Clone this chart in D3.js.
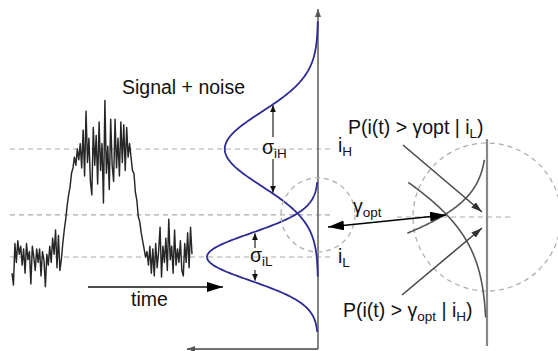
<!DOCTYPE html>
<html>
<head>
<meta charset="utf-8">
<script src="https://cdn.jsdelivr.net/npm/d3@7"></script>
<style>
  body { margin: 0; background: #fff; }
  svg { display: block; font-family: "Liberation Sans", Arial, sans-serif; }
</style>
</head>
<body>
<div id="chart"></div>
<script>
// received photocurrent (a.u.): low, rise, high, fall, low
const signal = [
  17.0, 14.8, 22.5, 19.0, 23.0, 20.5, 22.0, 18.5, 21.5, 17.0, 22.5, 19.5, 21.0, 15.0, 22.0, 20.0, 17.5,
  21.5, 19.0, 21.5, 16.5, 21.0, 19.5, 14.5, 20.5, 18.5, 22.0, 19.0, 23.5, 20.5, 25.0, 18.0, 24.0, 17.5,
  19.5, 22.5, 25.0, 27.0, 29.5, 31.5, 33.0, 35.5, 36.5, 38.5, 37.0, 40.0,
  38.0, 41.0, 36.5, 43.5, 35.0, 47.0, 37.5, 42.0, 34.0, 31.5, 44.0, 37.0, 42.5, 33.5, 45.0, 36.0, 41.0,
  30.0, 49.0, 35.5, 40.5, 32.5, 45.5, 37.0, 34.0, 45.5, 36.5, 42.0, 35.0, 45.0, 37.5, 44.5, 36.0, 44.0,
  38.5, 41.0,
  38.5, 36.0, 35.5, 32.0, 30.5, 27.5, 26.5, 24.5, 23.0, 21.5, 20.0, 21.0,
  18.5, 22.0, 17.0, 21.5, 16.5, 22.5, 18.0, 21.0, 25.5, 16.3, 22.0, 19.0, 23.5, 17.5, 27.0, 19.5,
  22.0, 17.0, 25.0, 18.5, 21.5, 19.0, 23.0, 17.5, 16.5, 22.5, 19.0, 24.5, 18.0, 25.5, 20.5
];

// the two current levels and their noise
const levelNames = ["L", "H"];
const levelMeans = [20, 40];
const levelSigmas = [4.4, 6.85];
const levelPeaks = [1.0, 0.84];
const levelSpans = [3.15, 3.45];     // bell drawn over +/- this many sigmas
const sigmaMarks = [1.0, 1.18];      // sigma arrows reach +/- this many sigmas
const gammaOpt = 27.8;

// part of each tail shown magnified in the inset (current range)
const insetRanges = [[26.3, 33.1], [18.5, 31.0]];

const width = 558, height = 351;

const svg = d3.select("#chart").append("svg")
    .attr("width", width)
    .attr("height", height);

// scales
const x_time = d3.scaleLinear().domain([0, signal.length - 1]).range([12, 192]);
const y_cur = d3.scaleLinear().domain([20, 40]).range([257, 149]);
const x_dens = d3.scaleLinear().domain([0, 1]).range([318, 207]);

// arrow heads
const defs = svg.append("defs");
function marker(id, len, wid, color) {
    defs.append("marker")
        .attr("id", id)
        .attr("markerUnits", "userSpaceOnUse")
        .attr("viewBox", `0 0 ${len} ${wid}`)
        .attr("refX", len).attr("refY", wid / 2)
        .attr("markerWidth", len).attr("markerHeight", wid)
        .attr("orient", "auto-start-reverse")
        .append("path")
        .attr("d", `M0,0L${len},${wid / 2}L0,${wid}Z`)
        .attr("fill", color);
}
marker("big", 16, 10, "#000");
marker("mid", 11, 7, "#333");
marker("small", 7, 6, "#111");
marker("axis", 8, 6, "#555");

const grey_dash = "#aaa";

// dashed reference levels
[levelMeans[1], gammaOpt, levelMeans[0]].forEach(v => {
    svg.append("line")
        .attr("x1", 10).attr("x2", 334)
        .attr("y1", y_cur(v)).attr("y2", y_cur(v))
        .attr("stroke", grey_dash).attr("stroke-width", 1.2)
        .attr("stroke-dasharray", "5,4");
});

// noisy signal trace
svg.append("path")
    .datum(signal)
    .attr("fill", "none")
    .attr("stroke", "#262626")
    .attr("stroke-width", 1.45)
    .attr("stroke-linejoin", "round")
    .attr("d", d3.line().x((d, i) => x_time(i)).y(d => y_cur(d)));

// density axes
const x0 = x_dens(0);
svg.append("line")
    .attr("x1", x0).attr("x2", x0).attr("y1", 349).attr("y2", 9)
    .attr("stroke", "#666").attr("stroke-width", 1.6)
    .attr("marker-end", "url(#axis)");
svg.append("line")
    .attr("x1", x0).attr("x2", 187).attr("y1", 349).attr("y2", 349)
    .attr("stroke", "#444").attr("stroke-width", 1.4)
    .attr("marker-end", "url(#axis)");

// gaussian bells
function gauss(v, k) {
    return levelPeaks[k] * Math.exp(-((v - levelMeans[k]) ** 2) / (2 * levelSigmas[k] ** 2));
}
function bellPoints(k, lo, hi) {
    const n = 160;
    return d3.range(n + 1).map(j => {
        const v = lo + (hi - lo) * j / n;
        return [x_dens(gauss(v, k)), y_cur(v)];
    });
}
const line = d3.line();
levelMeans.forEach((m, k) => {
    const s = levelSigmas[k] * levelSpans[k];
    svg.append("path")
        .attr("d", line(bellPoints(k, m - s, m + s)))
        .attr("fill", "none")
        .attr("stroke", "#2c2c94")
        .attr("stroke-width", 1.8);
});

// sigma arrows
const sigmaX = [255, 273];
const sigmaGap = [[248, 270], [137, 159]];
levelMeans.forEach((m, k) => {
    const top = y_cur(m + sigmaMarks[k] * levelSigmas[k]);
    const bot = y_cur(m - sigmaMarks[k] * levelSigmas[k]);
    [[sigmaGap[k][0], top], [sigmaGap[k][1], bot]].forEach(([a, b]) => {
        svg.append("line")
            .attr("x1", sigmaX[k]).attr("x2", sigmaX[k])
            .attr("y1", a).attr("y2", b)
            .attr("stroke", "#222").attr("stroke-width", 1.2)
            .attr("marker-end", "url(#small)");
    });
});

// magnifier circles and inset
const cx0 = x0, cy0 = y_cur(gammaOpt), r0 = 37;
const cx1 = 487, cy1 = 217, zoom = 2;
const mag = p => [cx1 + zoom * (p[0] - cx0), cy1 + zoom * (p[1] - cy0)];

[[cx0, cy0, r0], [cx1, cy1, r0 * zoom]].forEach(([cx, cy, r]) => {
    svg.append("circle")
        .attr("cx", cx).attr("cy", cy).attr("r", r)
        .attr("fill", "none")
        .attr("stroke", grey_dash).attr("stroke-width", 1.2)
        .attr("stroke-dasharray", "5,4");
});

svg.append("line")
    .attr("x1", 397).attr("x2", 512).attr("y1", cy1).attr("y2", cy1)
    .attr("stroke", grey_dash).attr("stroke-width", 1.2)
    .attr("stroke-dasharray", "5,4");

svg.append("line")
    .attr("x1", cx1).attr("x2", cx1).attr("y1", 139).attr("y2", 346)
    .attr("stroke", "#888").attr("stroke-width", 2.2);

insetRanges.forEach(([lo, hi], k) => {
    svg.append("path")
        .attr("d", line(bellPoints(k, lo, hi).map(mag)))
        .attr("fill", "none")
        .attr("stroke", "#555")
        .attr("stroke-width", 1.6);
});

// pointers to the error areas
[[403, 145, cx1 - 5, cy1 - 5], [402, 295, cx1 - 5, cy1 + 11]].forEach(([a, b, c, d]) => {
    svg.append("line")
        .attr("x1", a).attr("y1", b).attr("x2", c).attr("y2", d)
        .attr("stroke", "#444").attr("stroke-width", 1.5)
        .attr("marker-end", "url(#mid)");
});

// gamma double arrow
svg.append("line")
    .attr("x1", 328).attr("y1", 227).attr("x2", 446).attr("y2", 215)
    .attr("stroke", "#000").attr("stroke-width", 1.4)
    .attr("marker-start", "url(#big)")
    .attr("marker-end", "url(#big)");

// time arrow
svg.append("line")
    .attr("x1", 88).attr("x2", 223).attr("y1", 287).attr("y2", 287)
    .attr("stroke", "#111").attr("stroke-width", 1.4)
    .attr("marker-end", "url(#big)");

// labels, parts flagged true are subscripts
const fs = 19.5, fsub = 13.5;
function label(x, y, parts) {
    const t = svg.append("text")
        .attr("x", x).attr("y", y)
        .attr("font-size", fs)
        .attr("fill", "#111");
    let shift = 0;
    parts.forEach(([s, sub]) => {
        const want = sub ? 4 : 0;
        t.append("tspan")
            .attr("dy", want - shift)
            .attr("font-size", sub ? fsub : fs)
            .text(s);
        shift = want;
    });
}

label(122, 94, [["Signal + noise"]]);
label(131, 306, [["time"]]);
label(262, 154, [["σ"], ["i" + levelNames[1], true]]);
label(250, 262, [["σ"], ["i" + levelNames[0], true]]);
label(338, 152, [["i"], [levelNames[1], true]]);
label(338, 263, [["i"], [levelNames[0], true]]);
label(353, 213, [["γ"], ["opt", true]]);
label(348, 134, [["P(i(t) > γopt | i"], [levelNames[0], true], [")"]]);
label(343, 317, [["P(i(t) > γ"], ["opt", true], [" | i"], [levelNames[1], true], [")"]]);
</script>
</body>
</html>
